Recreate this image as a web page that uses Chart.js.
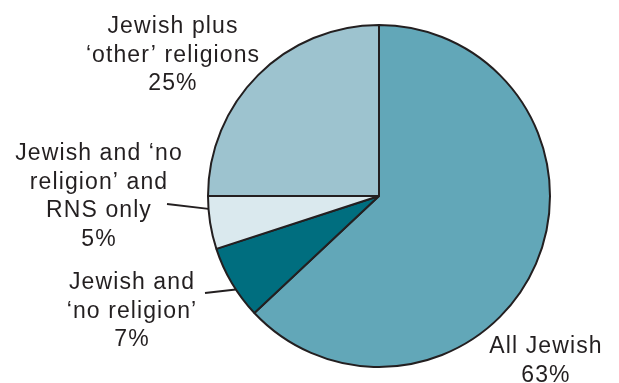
<!DOCTYPE html>
<html>
<head>
<meta charset="utf-8">
<script src="https://cdn.jsdelivr.net/npm/chart.js@4.4.1/dist/chart.umd.min.js"></script>
<style>
    html, body { margin: 0; padding: 0; background: #ffffff; }
    #wrap { width: 619px; height: 383px; position: relative; }
</style>
</head>
<body>
<div id="wrap"><canvas id="graph" width="619" height="383"></canvas></div>
<script>
// share of respondents by religion combination
var categories = ['All Jewish', 'Jewish and \u2018no religion\u2019', 'Jewish and \u2018no religion\u2019 and RNS only', 'Jewish plus \u2018other\u2019 religions'];
var shares = [63, 7, 5, 25];
var colours = ['#62a7b8', '#006e7f', '#dae9ee', '#9dc3cf'];

// how each label is broken into lines
var labelLines = [
    ['All Jewish'],
    ['Jewish and', '\u2018no religion\u2019'],
    ['Jewish and \u2018no', 'religion\u2019 and', 'RNS only'],
    ['Jewish plus', '\u2018other\u2019 religions']
];

// where each label sits; leader goes from (lx,ly) to the arc at fraction `at` of the slice
var labelPlace = [
    { x: 546, y: 353 },
    { x: 132, y: 289, lx: 205, ly: 293, at: 0.40 },
    { x: 99, y: 160, lx: 167, ly: 204, at: 0.76 },
    { x: 173, y: 33 }
];

var pieLabels = {
    id: 'pieLabels',
    afterDraw: function (chart) {
        var ctx = chart.ctx;
        var arcs = chart.getDatasetMeta(0).data;
        ctx.save();
        ctx.fillStyle = '#231f20';
        ctx.strokeStyle = '#231f20';
        ctx.lineWidth = 2;
        ctx.font = '23px "Liberation Sans", Arial, sans-serif';
        if ('letterSpacing' in ctx) ctx.letterSpacing = '1.1px';
        ctx.textAlign = 'center';
        ctx.textBaseline = 'alphabetic';
        for (var i = 0; i < arcs.length; i++) {
            var p = labelPlace[i];
            var lines = labelLines[i].concat([shares[i] + '%']);
            for (var j = 0; j < lines.length; j++) {
                ctx.fillText(lines[j], p.x, p.y + j * 28.5);
            }
            if (p.lx !== undefined) {
                var a = arcs[i];
                var ang = a.startAngle + p.at * (a.endAngle - a.startAngle);
                ctx.beginPath();
                ctx.moveTo(p.lx, p.ly);
                ctx.lineTo(a.x + Math.cos(ang) * a.outerRadius, a.y + Math.sin(ang) * a.outerRadius);
                ctx.stroke();
            }
        }
        ctx.restore();
    }
};

var pieChart = new Chart(document.getElementById('graph'), {
    type: 'pie',
    data: {
        labels: categories,
        datasets: [{
            data: shares,
            backgroundColor: colours,
            borderColor: '#231f20',
            borderWidth: 2,
            hoverOffset: 0,
            radius: 171
        }]
    },
    options: {
        responsive: false,
        animation: false,
        layout: { padding: { left: 139, right: 0, top: 13, bottom: 4 } },
        plugins: {
            legend: { display: false },
            tooltip: { enabled: false }
        }
    },
    plugins: [pieLabels]
});
</script>
</body>
</html>
